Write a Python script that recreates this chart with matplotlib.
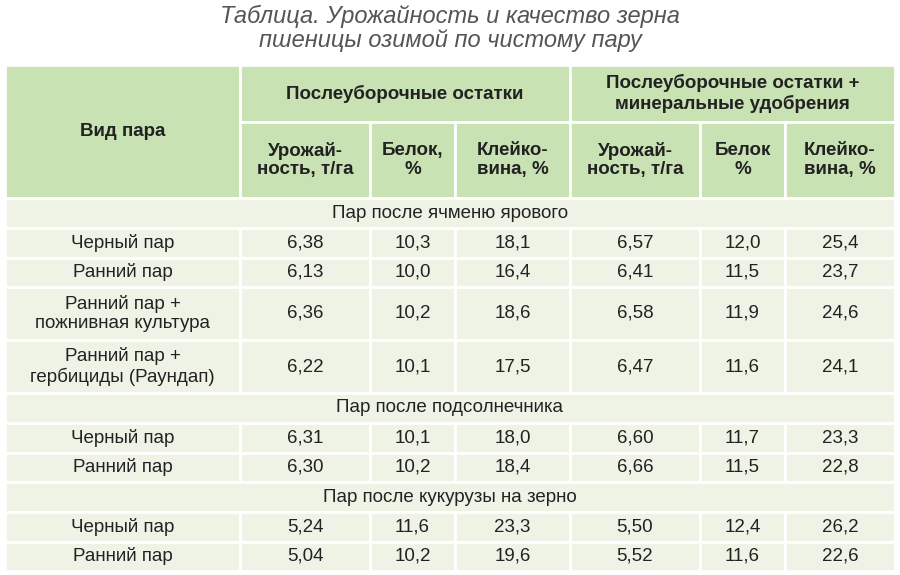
import matplotlib.pyplot as plt
from matplotlib.patches import Rectangle

plt.rcParams["font.family"] = ["Liberation Sans", "DejaVu Sans"]

TITLE = "Таблица. Урожайность и качество зерна\nпшеницы озимой по чистому пару"
GROUPS = ["Послеуборочные остатки", "Послеуборочные остатки +\nминеральные удобрения"]
SUBCOLS = ["Урожай-\nность, т/га", "Белок,\n%", "Клейко-\nвина, %"]
SUBCOLS2 = ["Урожай-\nность, т/га", "Белок\n%", "Клейко-\nвина, %"]

sections = ["Пар после ячменю ярового", "Пар после подсолнечника", "Пар после кукурузы на зерно"]
row_names = [
    ["Черный пар", "Ранний пар", "Ранний пар +\nпожнивная культура", "Ранний пар +\nгербициды (Раундап)"],
    ["Черный пар", "Ранний пар"],
    ["Черный пар", "Ранний пар"],
]
yield1 = [["6,38", "6,13", "6,36", "6,22"], ["6,31", "6,30"], ["5,24", "5,04"]]
protein1 = [["10,3", "10,0", "10,2", "10,1"], ["10,1", "10,2"], ["11,6", "10,2"]]
gluten1 = [["18,1", "16,4", "18,6", "17,5"], ["18,0", "18,4"], ["23,3", "19,6"]]
yield2 = [["6,57", "6,41", "6,58", "6,47"], ["6,60", "6,66"], ["5,50", "5,52"]]
protein2 = [["12,0", "11,5", "11,9", "11,6"], ["11,7", "11,5"], ["12,4", "11,6"]]
gluten2 = [["25,4", "23,7", "24,6", "24,1"], ["23,3", "22,8"], ["26,2", "22,6"]]

HEAD = "#c8e2b4"
BODY = "#eef3e6"
TXT = "#222222"
xs = [5, 240, 370, 455, 570, 700, 785, 895]

fig = plt.figure(figsize=(9, 5.75), dpi=100)
ax = fig.add_axes([0, 0, 1, 1])
ax.set_xlim(0, 900)
ax.set_ylim(575, 0)
ax.axis("off")

ax.text(450, 28, TITLE, ha="center", va="center", fontsize=17, style="italic",
        color="#555555", linespacing=1.05)


def cell(x0, x1, y0, y1, color, text="", bold=False, size=13.5):
    ax.add_patch(Rectangle((x0, y0), x1 - x0, y1 - y0, facecolor=color,
                           edgecolor="white", linewidth=2))
    if text:
        ax.text((x0 + x1) / 2, (y0 + y1) / 2, text, ha="center", va="center",
                fontsize=size, color=TXT, fontweight="bold" if bold else "normal",
                linespacing=1.15)


# header
cell(xs[0], xs[1], 65, 198, HEAD, "Вид пара", True)
cell(xs[1], xs[4], 65, 122, HEAD, GROUPS[0], True)
cell(xs[4], xs[7], 65, 122, HEAD, GROUPS[1], True)
for i, t in enumerate(SUBCOLS):
    cell(xs[1 + i], xs[2 + i], 122, 198, HEAD, t, True)
for i, t in enumerate(SUBCOLS2):
    cell(xs[4 + i], xs[5 + i], 122, 198, HEAD, t, True)

y = 198
for s, sec in enumerate(sections):
    cell(xs[0], xs[7], y, y + 30, BODY, sec)
    y += 30
    for r, name in enumerate(row_names[s]):
        h = 53 if "\n" in name else 29.5
        vals = [name, yield1[s][r], protein1[s][r], gluten1[s][r],
                yield2[s][r], protein2[s][r], gluten2[s][r]]
        for c, v in enumerate(vals):
            cell(xs[c], xs[c + 1], y, y + h, BODY, v)
        y += h

fig.savefig("out.png", dpi=100)
